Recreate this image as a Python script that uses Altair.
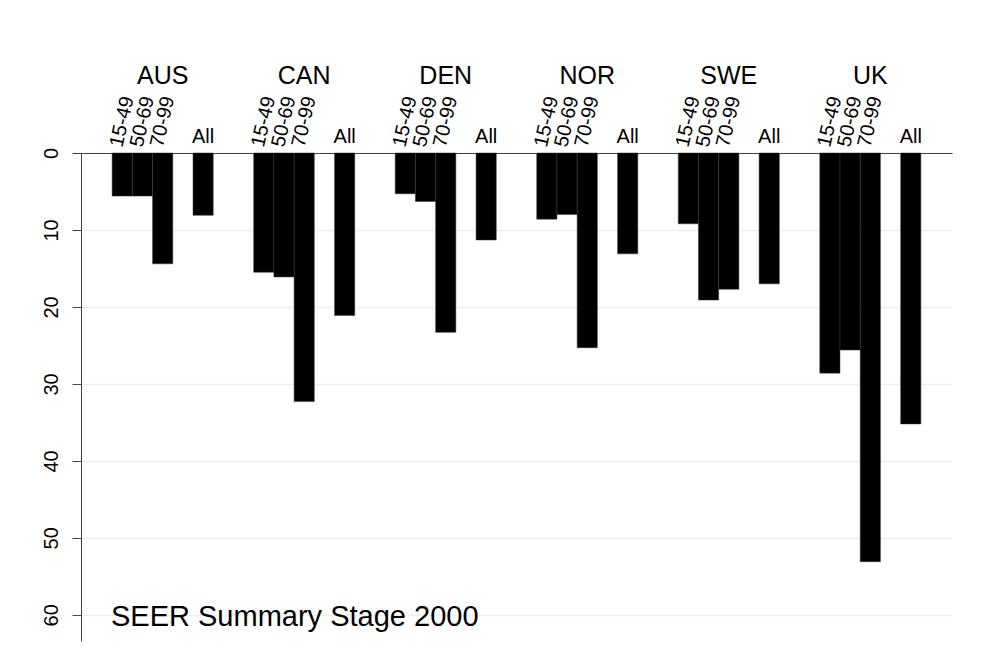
import altair as alt
import pandas as pd

# ---- data ----
countries = ["AUS", "CAN", "DEN", "NOR", "SWE", "UK"]
age_groups = ["15-49", "50-69", "70-99", "All"]
slot_order = ["15-49", "50-69", "70-99", "gap", "All"]  # "gap" = empty slot before "All"

aus = [5.6, 5.6, 14.4, 8.1]
can = [15.5, 16.1, 32.3, 21.1]
den = [5.3, 6.3, 23.3, 11.3]
nor = [8.6, 8.0, 25.3, 13.1]
swe = [9.2, 19.1, 17.7, 17.0]
uk = [28.6, 25.6, 53.1, 35.2]

y_ticks = [0, 10, 20, 30, 40, 50, 60]
caption = "SEER Summary Stage 2000"

series = {"AUS": aus, "CAN": can, "DEN": den, "NOR": nor, "SWE": swe, "UK": uk}
rows = []
for c in countries:
    for a, v in zip(age_groups, series[c]):
        rows.append({"country": c, "age": a, "value": v})
df = pd.DataFrame(rows)

FONT = "Liberation Sans"
DARK = "#444444"

x_scale = alt.Scale(domain=countries, paddingInner=2 / 7, paddingOuter=0.22)
xo_scale = alt.Scale(domain=slot_order, paddingInner=0, paddingOuter=0)
y_scale = alt.Scale(domain=[0, 63.4], reverse=True, nice=False, zero=True)

x_axis = alt.Axis(
    orient="top",
    title=None,
    ticks=False,
    tickSize=0,
    labelAngle=0,
    labelFontSize=25,
    labelFont=FONT,
    labelColor="black",
    labelPadding=65,
    domainColor=DARK,
    domainWidth=1,
    grid=False,
)

x_enc = alt.X("country:N", scale=x_scale, sort=countries, axis=x_axis)
xo_enc = alt.XOffset("age:N", scale=xo_scale, sort=slot_order)

base = alt.Chart(df)

bars = base.mark_bar(color="black", stroke="#3a3a3a", strokeWidth=0.5).encode(
    x=x_enc,
    xOffset=xo_enc,
    y=alt.Y(
        "value:Q",
        scale=y_scale,
        axis=alt.Axis(
            values=y_ticks,
            title=None,
            labelAngle=270,
            labelAlign="center",
            labelBaseline="bottom",
            labelFontSize=20,
            labelFont=FONT,
            labelColor="black",
            labelPadding=11,
            tickSize=9,
            tickColor=DARK,
            domainColor=DARK,
            gridColor="#e8f0f2",
            gridWidth=1.5,
        ),
    ),
)

age_labels = (
    base.transform_filter(alt.datum.age != "All")
    .mark_text(angle=283, align="left", baseline="middle", fontSize=20, font=FONT, color="black", dy=-6)
    .encode(x=x_enc, xOffset=xo_enc, y=alt.value(-5), text="age:N")
)

all_labels = (
    base.transform_filter(alt.datum.age == "All")
    .mark_text(align="center", baseline="alphabetic", fontSize=20, font=FONT, color="black")
    .encode(x=x_enc, xOffset=xo_enc, y=alt.value(-10), text="age:N")
)

note = (
    alt.Chart(pd.DataFrame({"label": [caption]}))
    .mark_text(align="left", baseline="alphabetic", fontSize=29, font=FONT, color="black")
    .encode(x=alt.value(30), y=alt.datum(61.45), text="label:N")
)

chart = (
    alt.layer(bars, age_labels, all_labels, note)
    .properties(
        width=871,
        height=488,
        autosize=alt.AutoSizeParams(type="none"),
        padding={"left": 73, "top": 145, "right": 30, "bottom": 5},
    )
    .configure(font=FONT, background="white")
    .configure_view(stroke="transparent", strokeWidth=0)
)

chart.save("out.html", embed_options={"renderer": "svg", "actions": False})
